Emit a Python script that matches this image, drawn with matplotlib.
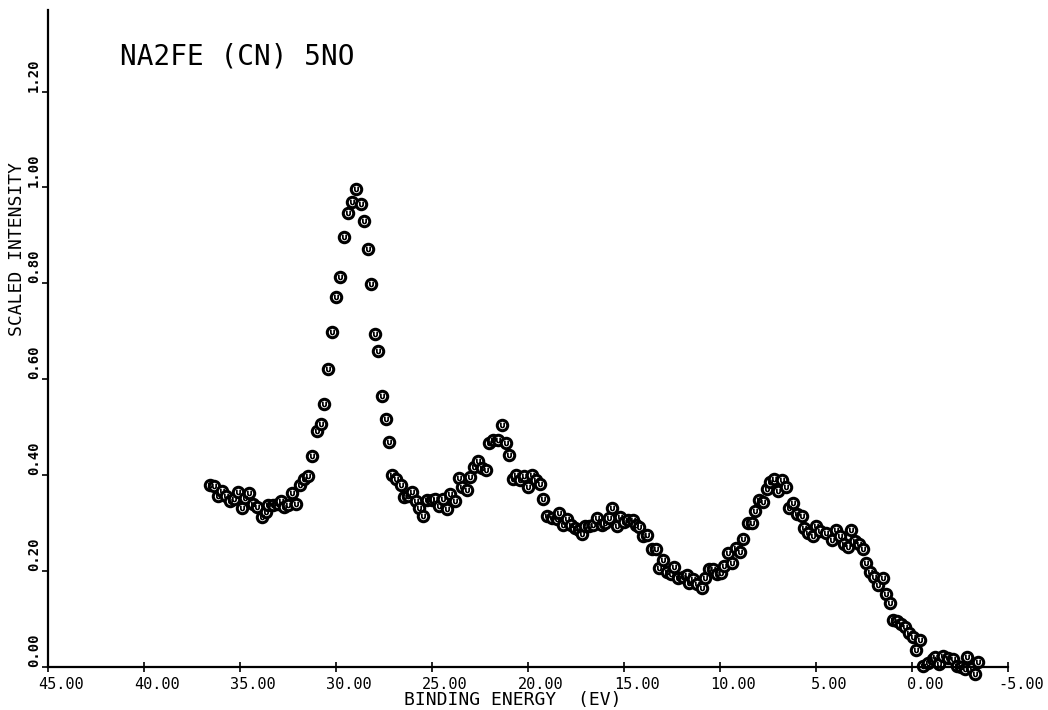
import matplotlib
matplotlib.use("Agg")
import matplotlib.pyplot as plt
from matplotlib.transforms import ScaledTranslation

energy = [
    36.56, 36.34, 36.13, 35.95, 35.74, 35.52, 35.30, 35.12, 34.91, 34.74,
    34.52, 34.31, 34.13, 33.87, 33.65, 33.53, 33.27, 33.01, 32.86, 32.69,
    32.48, 32.28, 32.10, 31.88, 31.65, 31.44, 31.23, 31.01, 30.78, 30.61,
    30.41, 30.19, 30.00, 29.79, 29.58, 29.36, 29.18, 28.96, 28.70, 28.54,
    28.35, 28.19, 27.97, 27.79, 27.62, 27.40, 27.24, 27.07, 26.88, 26.63,
    26.46, 26.23, 26.03, 25.83, 25.66, 25.45, 25.28, 25.02, 24.84, 24.64,
    24.44, 24.23, 24.06, 23.80, 23.61, 23.44, 23.19, 23.01, 22.81, 22.62,
    22.41, 22.19, 22.02, 21.81, 21.58, 21.35, 21.16, 20.97, 20.80, 20.63,
    20.42, 20.21, 20.02, 19.81, 19.60, 19.38, 19.23, 19.03, 18.77, 18.51,
    18.39, 18.19, 17.98, 17.76, 17.55, 17.33, 17.20, 17.03, 16.81, 16.60,
    16.39, 16.16, 15.99, 15.77, 15.61, 15.38, 15.21, 15.00, 14.78, 14.55,
    14.38, 14.20, 14.00, 13.79, 13.56, 13.33, 13.16, 12.98, 12.78, 12.57,
    12.38, 12.17, 11.94, 11.73, 11.60, 11.39, 11.18, 10.95, 10.78, 10.57,
    10.35, 10.14, 9.96, 9.79, 9.57, 9.36, 9.17, 8.96, 8.79, 8.53,
    8.35, 8.18, 7.97, 7.74, 7.57, 7.40, 7.19, 6.96, 6.76, 6.56,
    6.39, 6.21, 5.97, 5.74, 5.63, 5.40, 5.14, 5.00, 4.79, 4.48,
    4.18, 3.96, 3.75, 3.54, 3.32, 3.19, 2.97, 2.74, 2.54, 2.40,
    2.19, 1.98, 1.76, 1.53, 1.35, 1.15, 1.00, 0.80, 0.59, 0.36,
    0.14, -0.04, -0.21, -0.42, -0.59, -0.85, -1.08, -1.20, -1.42, -1.63,
    -1.89, -2.15, -2.33, -2.54, -2.75, -2.85, -3.11, -3.27, -3.45,
]

intensity = [
    0.379, 0.377, 0.356, 0.368, 0.356, 0.346, 0.351, 0.365, 0.332, 0.353,
    0.362, 0.339, 0.333, 0.313, 0.324, 0.338, 0.338, 0.340, 0.347, 0.333,
    0.338, 0.363, 0.340, 0.379, 0.391, 0.398, 0.440, 0.493, 0.506, 0.549,
    0.621, 0.699, 0.772, 0.813, 0.896, 0.946, 0.969, 0.996, 0.965, 0.931,
    0.872, 0.799, 0.695, 0.658, 0.565, 0.518, 0.469, 0.400, 0.392, 0.379,
    0.355, 0.356, 0.365, 0.347, 0.332, 0.315, 0.349, 0.349, 0.350, 0.336,
    0.351, 0.329, 0.360, 0.347, 0.394, 0.375, 0.370, 0.396, 0.417, 0.429,
    0.414, 0.410, 0.467, 0.474, 0.473, 0.504, 0.467, 0.443, 0.393, 0.401,
    0.390, 0.399, 0.376, 0.401, 0.389, 0.381, 0.351, 0.315, 0.310, 0.308,
    0.321, 0.297, 0.308, 0.297, 0.290, 0.285, 0.278, 0.294, 0.294, 0.297,
    0.310, 0.297, 0.301, 0.310, 0.332, 0.294, 0.313, 0.303, 0.306, 0.306,
    0.297, 0.292, 0.273, 0.275, 0.247, 0.247, 0.207, 0.224, 0.199, 0.193,
    0.208, 0.185, 0.188, 0.192, 0.176, 0.183, 0.174, 0.165, 0.186, 0.204,
    0.204, 0.193, 0.196, 0.210, 0.238, 0.217, 0.249, 0.240, 0.266, 0.301,
    0.301, 0.325, 0.349, 0.344, 0.372, 0.386, 0.391, 0.367, 0.389, 0.375,
    0.332, 0.342, 0.319, 0.315, 0.290, 0.280, 0.273, 0.294, 0.283, 0.280,
    0.264, 0.285, 0.273, 0.257, 0.250, 0.285, 0.263, 0.256, 0.247, 0.217,
    0.199, 0.188, 0.171, 0.185, 0.153, 0.134, 0.097, 0.096, 0.090, 0.083,
    0.071, 0.063, 0.035, 0.056, 0.002, 0.009, 0.016, 0.021, 0.006, 0.023,
    0.019, 0.016, 0.002, -0.001, -0.005, 0.021, -0.003, -0.014, 0.011,
]

x_ticks = [45, 40, 35, 30, 25, 20, 15, 10, 5, 0, -5]
x_tick_labels = ["45.00", "40.00", "35.00", "30.00", "25.00", "20.00",
                 "15.00", "10.00", "5.00", "0.00", "-5.00"]
y_ticks = [0.0, 0.2, 0.4, 0.6, 0.8, 1.0, 1.2]
y_tick_labels = ["0.00", "0.20", "0.40", "0.60", "0.80", "1.00", "1.20"]

title_text = "NA2FE (CN) 5NO"
x_label = "BINDING ENERGY  (EV)"
y_label = "SCALED INTENSITY"

FONT = "DejaVu Sans Mono"

fig = plt.figure(figsize=(10.48, 7.10), dpi=100)
ax = fig.add_axes([48 / 1048, (710 - 667) / 710, 960 / 1048, (667 - 10) / 710])

ax.plot(energy, intensity, linestyle="none", marker="o", markersize=7.5,
        markerfacecolor="white", markeredgecolor="black", markeredgewidth=2.2,
        clip_on=False)
ax.plot(energy, intensity, linestyle="none", marker=r"$\cup$", markersize=3.5,
        color="black", markeredgewidth=0.6, clip_on=False)

ax.set_xlim(45, -5)
ax.set_ylim(0, 1.37)

for side in ("top", "right"):
    ax.spines[side].set_visible(False)
for side in ("left", "bottom"):
    ax.spines[side].set_linewidth(1.6)
    ax.spines[side].set_color("black")

ax.set_xticks(x_ticks)
ax.set_xticklabels(x_tick_labels, fontfamily=FONT, fontsize=11)
ax.set_yticks(y_ticks)
ax.set_yticklabels(y_tick_labels, fontfamily=FONT, fontsize=10,
                   fontweight="bold", rotation=90, va="bottom")
ax.tick_params(axis="x", direction="inout", length=7, width=1.2, pad=4)
ax.tick_params(axis="y", direction="out", length=4, width=1.2, pad=1)

offset = ScaledTranslation(13 / 100, 0, fig.dpi_scale_trans)
for lbl in ax.get_xticklabels():
    lbl.set_transform(lbl.get_transform() + offset)

fig.text(120 / 1048, (710 - 65) / 710, title_text, fontfamily=FONT,
         fontsize=20, ha="left", va="baseline")
fig.text(513 / 1048, 0.002, x_label, fontfamily=FONT, fontsize=13,
         ha="center", va="bottom")
fig.text(17.5 / 1048, (710 - 249) / 710, y_label, fontfamily=FONT, fontsize=13,
         rotation=90, ha="center", va="center")

fig.savefig("out.png", dpi=100)
